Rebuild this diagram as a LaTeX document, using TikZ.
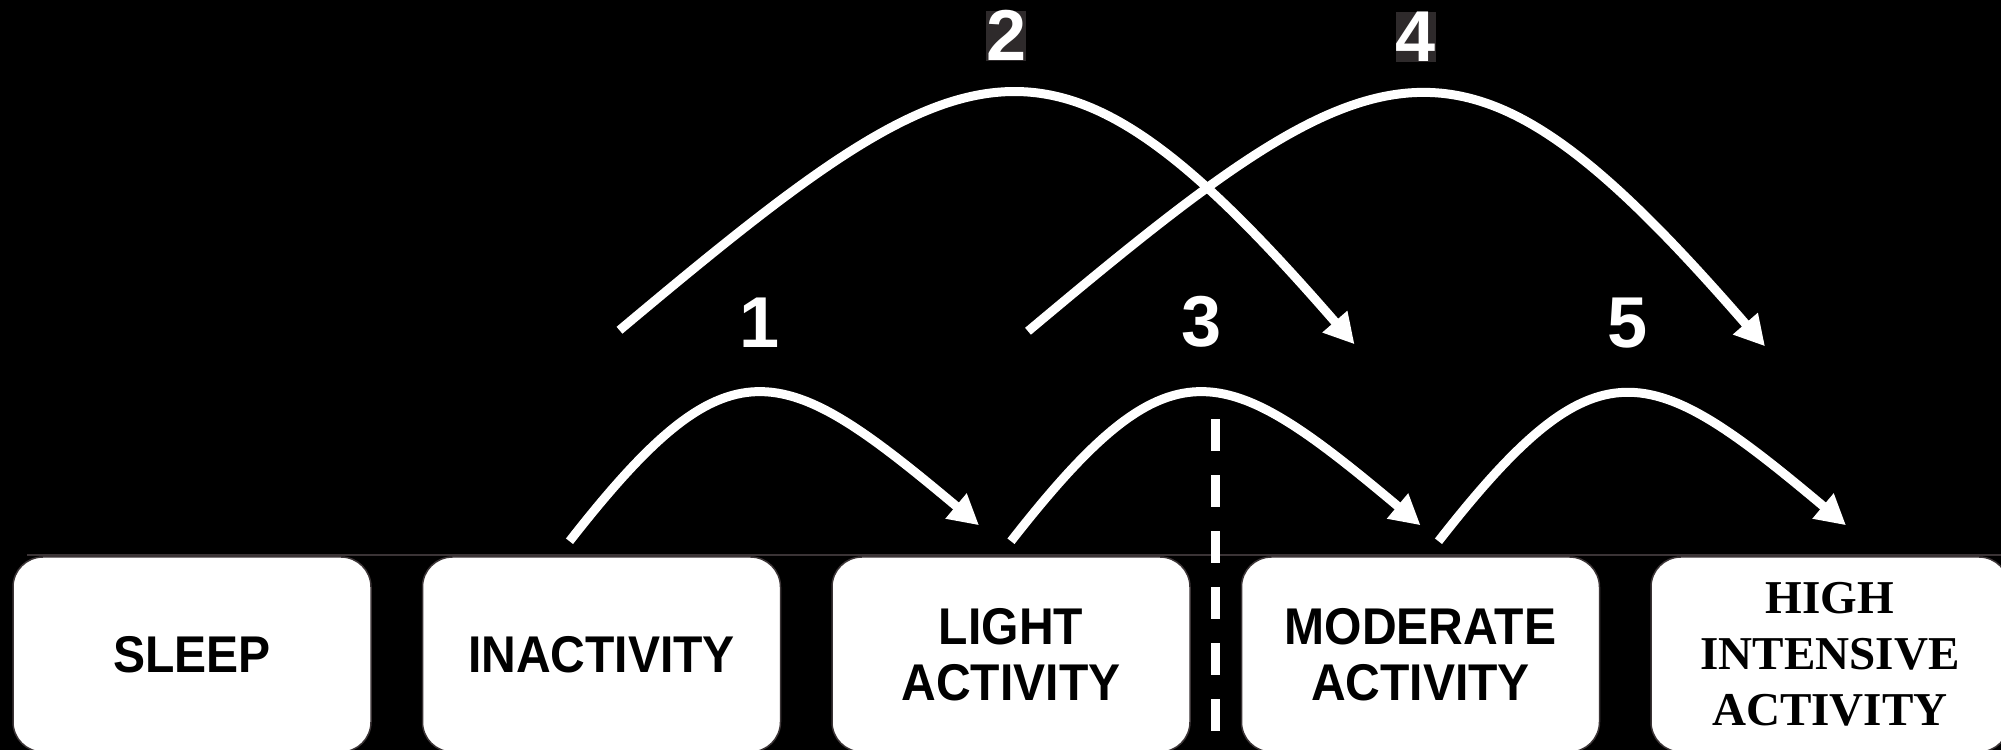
\documentclass[tikz,border=0pt]{standalone}
\usepackage{fontspec}
\usepackage{tikz}
\usetikzlibrary{arrows.meta,positioning,calc}
\newfontfamily\condsans{Liberation Sans}[FakeStretch=0.93]
\newfontfamily\plainsans{Liberation Sans}
\newfontfamily\timesbold{Liberation Serif}
\definecolor{ActEdge}{HTML}{3B3436}
\definecolor{ActShade}{HTML}{2E2A2B}
\tikzset{
  block/.style={draw=ActEdge,line width=0.15mm,fill=white,rounded corners=3mm,align=center,
    minimum width=35.8mm,minimum height=19.5mm,inner sep=0pt,
    font=\condsans\bfseries\fontsize{14.7}{15.9}\selectfont},
  serifblock/.style={block,font=\timesbold\bfseries\fontsize{13.4}{15.9}\selectfont},
  flow/.style={-{Triangle[length=3mm,width=3.1mm]},draw=white,line width=0.9mm},
  hop/.style={flow,out=52,in=140,looseness=1.62},
  leap/.style={flow,out=40,in=131,looseness=1.61},
  num/.style={text=white,inner sep=0pt,font=\plainsans\bfseries\fontsize{20.5}{20.5}\selectfont},
  topnum/.style={num,fill=ActShade},
  rule/.style={draw=ActEdge,line width=0.2mm},
  cut/.style={draw=white,line width=0.9mm,dash pattern=on 3.2mm off 2.4mm}
}
\begin{document}
\begin{tikzpicture}[x=0.1mm,y=0.1mm,node distance=5mm]
  \fill[black] (0,0) rectangle (2001,750);
  \useasboundingbox (0,0) rectangle (2001,750);
  \node[block] (sleep) at (192,95.5) {SLEEP};
  \node[block,right=of sleep] (inact) {INACTIVITY};
  \node[block,right=of inact] (light) {LIGHT\\ACTIVITY};
  \node[block,right=of light] (mod) {MODERATE\\ACTIVITY};
  \node[serifblock,right=of mod] (high) {HIGH\\INTENSIVE\\ACTIVITY};
  \draw[rule] ([xshift=1.5mm,yshift=0.15mm]sleep.north west) -- ++(1990,0);
  % short hops between neighbours
  \draw[hop] ([xshift=-3.2mm,yshift=1.5mm]inact.north) to node[num,above=4.2mm] {1} ([xshift=-3.2mm,yshift=3.1mm]light.north);
  \draw[hop] ([yshift=1.5mm]light.north) to node[num,above=4.2mm] {3} ([yshift=3.1mm]mod.north);
  \draw[hop] ([xshift=1.8mm,yshift=1.5mm]mod.north) to node[num,above=4.2mm] {5} ([xshift=1.6mm,yshift=3.1mm]high.north);
  % long leaps over one category
  \draw[leap] ([xshift=1.8mm,yshift=22.6mm]inact.north) to node[topnum,above=2.9mm] {2} ([xshift=-6.6mm,yshift=21.2mm]mod.north);
  \draw[leap] ([xshift=1.7mm,yshift=22.5mm]light.north) to node[topnum,above=2.9mm] {4} ([xshift=-6.5mm,yshift=21mm]high.north);
  \coordinate (cuttop) at ($(light.north east)!.5!(mod.north west)+(0,137)$);
  \coordinate (cutend) at ($(light.north east)!.5!(mod.north west)+(0,-175)$);
  \draw[cut] (cuttop) -- (cutend);
\end{tikzpicture}
\end{document}
